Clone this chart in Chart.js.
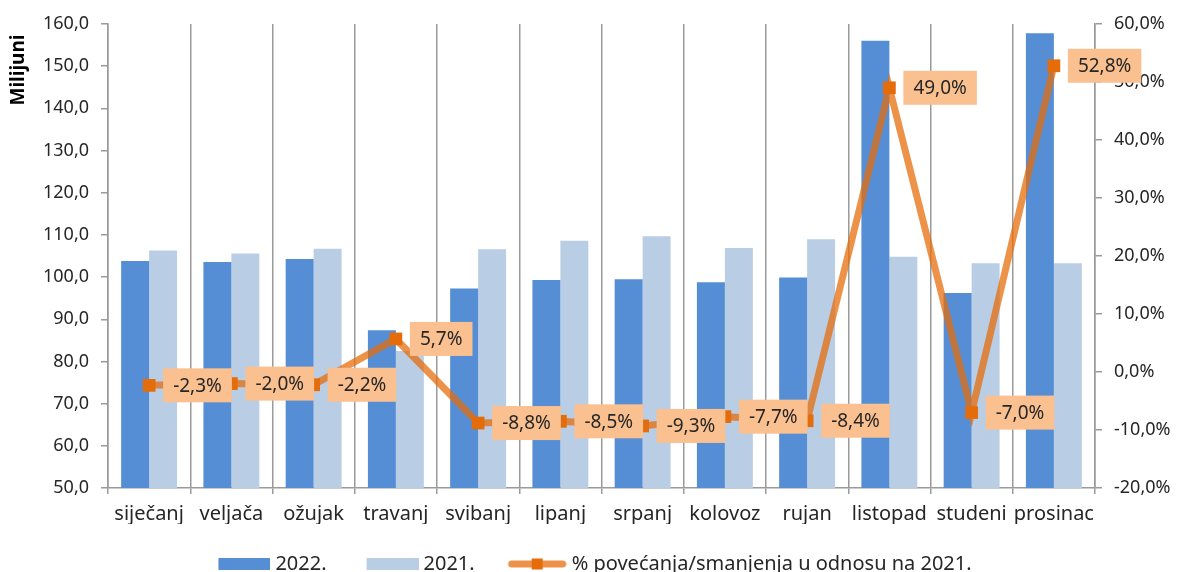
<!DOCTYPE html>
<html>
<head>
<meta charset="utf-8">
<script src="https://cdn.jsdelivr.net/npm/chart.js@4.4.1/dist/chart.umd.min.js"></script>
<style>
html,body{margin:0;padding:0;background:#fff;overflow:hidden}
#wrap{width:1180px;height:572px;overflow:hidden;position:relative}
canvas{display:block}
</style>
</head>
<body>
<div id="wrap"><canvas id="c" width="1180" height="584"></canvas></div>
<script>
const categories = ['siječanj','veljača','ožujak','travanj','svibanj','lipanj','srpanj','kolovoz','rujan','listopad','studeni','prosinac'];
const values2022 = [103.8,103.6,104.3,87.4,97.3,99.3,99.5,98.8,99.9,156.0,96.2,157.8];
const values2021 = [106.3,105.6,106.7,82.5,106.6,108.6,109.7,106.9,109.0,104.8,103.3,103.3];
const changePct = [-2.3,-2.0,-2.2,5.7,-8.8,-8.5,-9.3,-7.7,-8.4,49.0,-7.0,52.8];
const seriesNames = ['2022.','2021.','% povećanja/smanjenja u odnosu na 2021.'];
const leftAxisTitle = 'Milijuni';

const FONT = '"Noto Sans", "Open Sans", sans-serif';
const TXT = '#262626';
const GRID = '#9a9a9a';
const C2022 = '#558ED5';
const C2021 = '#B9CDE5';
const CLINE = 'rgba(230,108,10,0.74)';
const CMARK = '#E46C0A';
const CLABEL = '#FAC090';

const fmt = v => v.toFixed(1).replace('.', ',');

function makeIcon(kind){
  const W = 67, H = 14;
  const cv = document.createElement('canvas');
  cv.width = W; cv.height = H;
  const g = cv.getContext('2d');
  if (kind === 'line'){
    const x1 = W - 59 + 4, x2 = W - 4;
    g.strokeStyle = CLINE; g.lineWidth = 7; g.lineCap = 'round';
    g.beginPath(); g.moveTo(x1, H/2); g.lineTo(x2, H/2); g.stroke();
    g.fillStyle = CMARK;
    const cx = W - 59/2;
    g.fillRect(cx - 5.5, H/2 - 5.5, 11, 11);
  } else {
    g.fillStyle = kind;
    g.fillRect(W - 52, 1, 52, 12);
  }
  return cv;
}
const icons = [makeIcon(C2022), makeIcon(C2021), makeIcon('line')];

const labelPlugin = {
  id: 'pctLabels',
  afterDatasetsDraw(chart){
    const meta = chart.getDatasetMeta(2);
    const ctx = chart.ctx;
    ctx.save();
    ctx.font = '19px ' + FONT;
    meta.data.forEach((pt, i) => {
      const txt = fmt(changePct[i]) + '%';
      const w = ctx.measureText(txt).width + 20;
      const h = 34;
      const x0 = pt.x + 14, y0 = pt.y - h/2;
      ctx.fillStyle = CLABEL;
      ctx.fillRect(x0, y0, w, h);
      ctx.fillStyle = TXT;
      ctx.textBaseline = 'middle';
      ctx.textAlign = 'left';
      ctx.fillText(txt, x0 + 10, pt.y + 1);
    });
    ctx.restore();
  }
};

const titlePlugin = {
  id: 'axisTitle',
  afterDraw(chart){
    const ctx = chart.ctx;
    ctx.save();
    ctx.translate(19, 70);
    ctx.rotate(-Math.PI/2);
    ctx.font = 'bold 19px ' + FONT;
    ctx.fillStyle = '#000';
    ctx.textAlign = 'center';
    ctx.textBaseline = 'middle';
    ctx.fillText(leftAxisTitle, 0, 0);
    ctx.restore();
  }
};

const LEG_PAD = 30;

new Chart(document.getElementById('c'), {
  data: {
    labels: categories,
    datasets: [
      { type: 'bar', label: seriesNames[0], data: values2022, backgroundColor: C2022, yAxisID: 'y', order: 1, barPercentage: 1, categoryPercentage: 0.68 },
      { type: 'bar', label: seriesNames[1], data: values2021, backgroundColor: C2021, yAxisID: 'y', order: 2, barPercentage: 1, categoryPercentage: 0.68 },
      { type: 'line', label: seriesNames[2], data: changePct, yAxisID: 'y1', order: 0,
        borderColor: CLINE, borderWidth: 7, tension: 0,
        pointStyle: 'rect', pointRadius: 9, pointHoverRadius: 9, pointBackgroundColor: CMARK, pointBorderWidth: 0 }
    ]
  },
  options: {
    responsive: false,
    animation: false,
    devicePixelRatio: 1,
    layout: { padding: { top: 24, left: 0, right: 0, bottom: 0 } },
    plugins: {
      tooltip: { enabled: false },
      legend: {
        position: 'bottom',
        labels: {
          usePointStyle: true,
          pointStyleWidth: 57,
          boxHeight: 12,
          padding: LEG_PAD,
          color: TXT,
          font: { family: FONT, size: 20 },
          generateLabels: chart => chart.data.datasets.map((d, i) => ({
            text: d.label, pointStyle: icons[i], fillStyle: 'transparent', strokeStyle: 'transparent',
            lineWidth: 0, hidden: false, datasetIndex: i, fontColor: TXT
          }))
        }
      }
    },
    scales: {
      x: {
        offset: true,
        grid: { offset: true, display: true, drawOnChartArea: true, drawTicks: true, tickLength: 6, color: GRID, lineWidth: 1.5 },
        border: { display: true, color: GRID, width: 1.5 },
        ticks: { color: TXT, font: { family: FONT, size: 20 }, padding: 8, maxRotation: 0, autoSkip: false },
        afterFit: s => { s.height = 584 - 488 - 30 - LEG_PAD; }
      },
      y: {
        position: 'left',
        min: 50, max: 160,
        ticks: { stepSize: 10, color: TXT, font: { family: FONT, size: 18 }, padding: 12, callback: v => fmt(v) },
        grid: { drawOnChartArea: false, drawTicks: true, tickLength: 7, color: GRID, lineWidth: 1.5 },
        border: { display: true, color: GRID, width: 1.5 },
        afterFit: s => { s.width = 108; }
      },
      y1: {
        position: 'right',
        min: -20, max: 60,
        z: 1,
        ticks: { stepSize: 10, color: TXT, font: { family: FONT, size: 18 }, padding: 12, callback: v => fmt(v) + '%' },
        grid: { drawOnChartArea: false, drawTicks: true, tickLength: 7, color: GRID, lineWidth: 1.5 },
        border: { display: true, color: GRID, width: 1.5 },
        afterFit: s => { s.width = 85; }
      }
    }
  },
  plugins: [labelPlugin, titlePlugin]
});
</script>
</body>
</html>
